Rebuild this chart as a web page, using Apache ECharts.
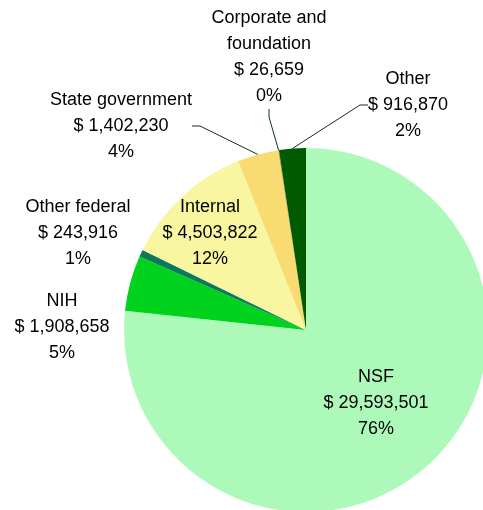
<!DOCTYPE html>
<html><head><meta charset="utf-8">
<script src="https://cdn.jsdelivr.net/npm/echarts@6/dist/echarts.min.js"></script>
<style>html,body{margin:0;padding:0;background:#fff}#c{width:483px;height:510px}</style>
</head><body><div id="c"></div>
<script>
const categories = ['NSF', 'NIH', 'Other federal', 'Internal', 'State government', 'Corporate and\nfoundation', 'Other'];
const values = [29593501, 1908658, 243916, 4503822, 1402230, 26659, 916870];
const percents = [76, 5, 1, 12, 4, 0, 2];
const colors = ['#adf9b9', '#00d21e', '#0b7a5a', '#f8f6a0', '#f8dc72', '#b0a040', '#005a00'];

// label layout (text centres) and whether a guide line is drawn
const labelPos = [
  {x: 376, y: 403, line: false},
  {x: 62, y: 327, line: false},
  {x: 78, y: 233, line: false},
  {x: 210, y: 233, line: false},
  {x: 121, y: 126, line: true},
  {x: 269, y: 57, line: true},
  {x: 408, y: 105, line: true}
];

const chart = echarts.init(document.getElementById('c'), null, {renderer: 'canvas'});
const data = categories.map((n, i) => ({
  name: n,
  value: values[i],
  itemStyle: {color: colors[i]},
  labelLine: {show: labelPos[i].line},
  label: {position: (i === 0 || i === 3) ? 'inside' : 'outside'}
}));

chart.setOption({
  animation: false,
  series: [{
    type: 'pie',
    center: [306, 330],
    radius: [0, 182],
    startAngle: 90,
    clockwise: true,
    avoidLabelOverlap: false,
    data: data,
    label: {
      show: true,
      color: '#000',
      fontFamily: 'Liberation Sans, Arial, sans-serif',
      fontSize: 18,
      lineHeight: 26,
      align: 'center',
      formatter: p => p.name + '\n$ ' + values[p.dataIndex].toLocaleString('en-US') + '\n' + percents[p.dataIndex] + '%'
    },
    labelLine: {
      lineStyle: {color: '#113311', width: 1},
      length: 10, length2: 8
    },
    labelLayout: function (params) {
      const p = labelPos[params.dataIndex];
      return {x: p.x, y: p.y, align: 'center', verticalAlign: 'middle'};
    }
  }]
});
</script></body></html>
